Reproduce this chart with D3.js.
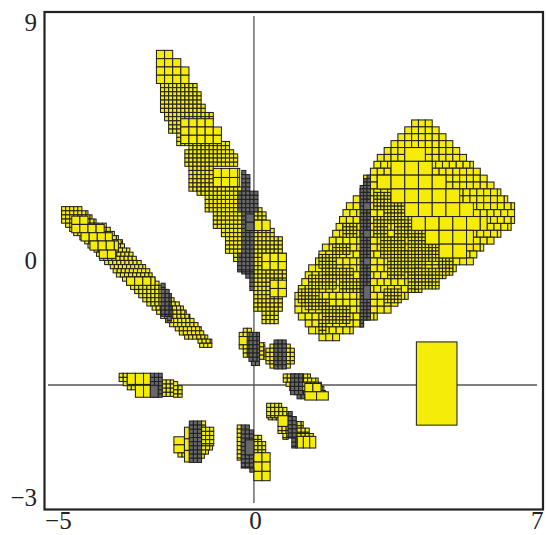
<!DOCTYPE html>
<html><head><meta charset="utf-8">
<script src="https://cdnjs.cloudflare.com/ajax/libs/d3/7.8.5/d3.min.js"></script>
<style>html,body{margin:0;padding:0;background:#fff}svg{display:block}</style>
</head><body><svg id="c" width="547" height="535"></svg>
<script>
// Tick labels
const xTicks = [-5, 0, 7];
const yTickLabels = ["9", "0", "\u22123"];
const targetBox = [4, 5, -0.97, 1.04];

// Each paving: origin [x, y] and cell step [dx, dy] in data units.
// Blocks: [row0, row1, col0, col1, cellCols=1, cellRows=1]
const stemGrid = [-2.4, 8.08, 0.1, 0.1];
const stemFine = [[8,10,1,10],[10,13,1,11],[13,15,1,12],[15,17,2,14],[15,20,3,8],[20,23,5,8],
  [22,24,8,18],[24,25,7,19],[25,28,7,20],[28,34,8,14],[34,39,12,21],[33,35,10,21],[39,43,14,21],[43,45,16,21],[45,49,17,21],[49,51,19,21],
  [38,39,24,26],[39,43,24,27],[43,45,24,29],[45,49,24,31],[49,59,24,32],[59,63,24,31],[63,66,26,30]];
const stemCoarse = [[0,2,0,4,2,2],[2,4,0,6,2,2],[4,8,0,8,2,2],[16.5,18.5,6,14,2,2],[18.5,22.5,6,16,2,2],
  [28.5,33,14,20.5,2,2.2],[41,43.5,24,28,2,2.5],[49,53,26,32,2,2],[55.5,59.5,28,32,2,2]];
const stemGrey = [[29,30,21,22],[30,34,21,23],[34,39,20,25],[39,49,21,24],[49,53.5,20,24],[53.5,54,21,24],[54,55,22,24],[55,58,23,24]];
const stemGreyBig = [[39.5,43.5,22,24,2,2]];

const leafGrid = [-4.736, 4.307, 0.1, 0.1];
const leafFine = [[0,1,0,5],[1,2,0,6.5],[2,3,0,7.5],[3,4,0,8.5],[4,5,1,11],[5,6,2,12],[6,7,3,13],[7,8,4.5,14],[8,9,5.7,15],[9,10,6.5,15.7],
  [10,11,8,16.8],[11,12,8.6,17.6],[12,13,9.4,18.4],[13,14,10.6,19.7],[14,15,12,20.7],[15,16,12.7,21.7],[16,17,13.5,22.3],[17,18,15,23],
  [18,19,16,24],[19,20,17,25],[20,21,18,26],[21,22,19,27],[22,23,20,27.7],[23,24,21,29],[24,25,22.3,30],[25,26,23.4,30.7],[26,27,24.4,31.6],
  [27,28,25.6,32.6],[28,29,26.6,33.6],[29,30,28,34.4],[30,31,29,35],[31,32,30.3,36],[32,33,33.6,37],[33,34,34,37]];
const leafCoarse = [[2.3,4.3,2.5,6.5,2,2],[4.3,6.3,2.5,10.5,2,2],[6.3,8.3,4.8,12.5,2,2],[8.3,10.5,7,14,2,2.2],[10.5,12.5,9.3,13.5,2,2],[17,19,16,23,2,2]];
const leafGrey = [[18.5,20,24.5,25.5],[20,21,24.5,26.5],[21,26.5,24.5,27],[26.5,28,26,27]];

const fanGrid = [1.01, 6.40, 0.0845, 0.0833];
const fanMedium = [[0,2,34,40,2,2],[2,4,32,42,2,2],[4,6,30,44,2,2],[6,8,28,46,2,2],[8,10,26,48,2,2],[10,12,24,50,2,2],[12,14,23,52,2,2],[14,16,22,54,2,2],
  [16,18,20,56,2,2],[18,20,20,58,2,2],[20,22,19,60,2,2],[22,24,17,62,2,2],[24,26,15,64,2,2],[26,28,14,64,2,2],[28,30,13,64,2,2],[30,32,12,63,2,2],
  [32,34,11,60,2,2],[34,36,10,58,2,2],[36,38,8,55,2,2],[38,40,7,53,2,2],[40,42,6,52,2,2],[42,44,4,47,2,2],[44,46,3,44,2,2],[46,48,2,40,2,2],
  [48,50,1,37,2,2],[50,52,0,33,2,2],[52,54,0,30,2,2],[54,56,0,28,2,2],[56,58,1,24,2,2],[58,60,3,20,2,2],[60,62,4,17,2,2],[62,64,7,13,2,2]];
const fanFine = [[21,26,23,29],[24,30,26,32],[29,34,29,35],[32,38,33,38],[35,41,37,42],[40,45,42,46],
  [28,34,23,27],[34,40,25,32],[40,46,27,32],[44,50,33,36],[38,44,31,37],[43,49,35,42],[49,53,26,31],
  [30,34,14,18],[36,39,11,16],[39,43,7,12],[43,46,8,17],[45,49,4,12],[46,50,13,19],[49,53,1,7],[52,55,3,10],[54,59,8,16],[59,62,7,9]];
const fanCoarse = [[8,12,32,38,6,4],[12,16,28,40,4,4],[16,20,24,44,4,4],[20,24,28,48,4,4],[24,28,32,52,4,4],[28,32,34,56,4,4],[32,36,38,52,4,4],[36,40,42,50,4,4]];
const fanGrey = [[16,17,21,22],[17,19,20,22],[19,58,19,22],[58,60,19,20]];
const fanGreyBig = [[24,26,20,22,2,2],[32,34,20,22,2,2],[40,42,20,22,2,2],[48,52,20,22,2,4]];

const c1Grid = [-0.362, 1.37, 0.1, 0.1];
const c1Yellow = [[0,1,1,3],[1,2,0,3],[2,4,0,2,2,2],[2,4,2,2.4],[4,5,0,2.4],[5,7,1,2.4],[3.5,7.5,5,6.3]];
const c1Grey = [[1,8,2.4,5],[8,9,3,5]];

const c2Grid = [0.296, 1.087, 0.1, 0.1];
const c2Yellow = [[1,2,1,6.2],[2,5.8,0,7],[5.8,7,1,6.2]];
const c2Grey = [[0,7,2,5.2]];

const c3Grid = [0.722, 0.266, 0.1, 0.1];
const c3Yellow = [[0,1,0,6.7],[1,2,0,8.6],[2,3,0.7,9.4],[3,4,1.6,10],[4,5,3,10.4],[2.3,4.3,5.3,9.3,2,2],[4.3,6.3,5.3,11.2,2.9,2]];
const c3Grey = [[0,5,1.8,5],[5,6,3.4,5.3]];

const c4Grid = [-3.318, 0.283, 0.1, 0.1];
const c4Yellow = [[0,2,0,2],[2,3,1,2],[3,4,2,4],[0,2.7,2,7.7,2,2.7],[2.9,5.8,4,7.7,2,2.9],[1.6,5.8,10.6,13.4],[2,5.8,13.4,14.5],[3,5.8,14.5,15.6]];
const c4Grey = [[0,5.8,7.7,10.6]];
const c4GreyBig = [[2.9,5.8,7.7,9.6,1.9,2.9]];

const c5Grid = [-1.97, -0.87, 0.1, 0.1];
const c5Yellow = [[3.8,7.7,0,2.6,2.6,1.95],[7.7,8.7,1,2.7],[1.5,10,2.6,3.8,1.2,2.8],[0,1.5,6.8,8],[1.5,6,6.8,10],[6,7,6.8,9.5],[7,8,6.8,8.5],[8,9,6.8,7.5]];
const c5Grey = [[0,10.2,3.8,6.8]];

const c6Grid = [-0.411, -0.966, 0.1, 0.1];
const c6Yellow = [[0,8.5,0,1],[2.5,4,4.1,6],[4,6.7,4.1,7],[6.7,13.5,4.1,8.1,2,2.25]];
const c6Grey = [[0,1.2,1,3.2],[1.2,10.4,1,4.1],[10.4,11.6,3.1,4.1]];
const c6GreyBig = [[3.6,7.2,2,4.1,2.1,3.6]];

const c7Grid = [0.313, -0.442, 0.1, 0.1];
const c7Yellow = [[0,1,0,3.7],[1,2,0,5],[2,3.5,0,5.3],[3.5,4,0.4,5.3],[3,5.6,2.8,5.3,2.5,2.6],[5.6,7.3,2.8,5.3],[7.3,8.7,4,5.3],
  [4.4,6,7.5,9],[6,7.3,7.5,10.5],[7.3,8,7.5,11.5],[8,10.8,7.5,12.1,1.55,2.8]];
const c7Grey = [[2,3.2,5.3,6.4],[3.2,8.4,5.3,7.5],[8.4,10.8,6.2,7.5]];

const YELLOW = "#f5ec08", GREY = "#68686a", EDGE = "#222";
const layers = [
  [stemGrid, stemFine, YELLOW],[stemGrid, stemCoarse, YELLOW],[stemGrid, stemGrey, GREY],[stemGrid, stemGreyBig, GREY],
  [leafGrid, leafFine, YELLOW],[leafGrid, leafCoarse, YELLOW],[leafGrid, leafGrey, GREY],
  [fanGrid, fanMedium, YELLOW],[fanGrid, fanFine, YELLOW],[fanGrid, fanCoarse, YELLOW],[fanGrid, fanGrey, GREY],[fanGrid, fanGreyBig, GREY],
  [c1Grid, c1Yellow, YELLOW],[c1Grid, c1Grey, GREY],
  [c2Grid, c2Yellow, YELLOW],[c2Grid, c2Grey, GREY],
  [c3Grid, c3Yellow, YELLOW],[c3Grid, c3Grey, GREY],
  [c4Grid, c4Yellow, YELLOW],[c4Grid, c4Grey, GREY],[c4Grid, c4GreyBig, GREY],
  [c5Grid, c5Yellow, YELLOW],[c5Grid, c5Grey, GREY],
  [c6Grid, c6Yellow, YELLOW],[c6Grid, c6Grey, GREY],[c6Grid, c6GreyBig, GREY],
  [c7Grid, c7Yellow, YELLOW],[c7Grid, c7Grey, GREY]
];

const svg = d3.select("#c");
const x = d3.scaleLinear().domain([-5.07, 6.97]).range([48, 537]);
const y = d3.scaleLinear().domain([8.91, -2.85]).range([16, 503]);
const yLabel = d3.scalePoint().domain(yTickLabels).range([22, 497]);

// Expand blocks to boxes
const boxes = [];
for (const [grid, blocks, fill] of layers) {
  const [ox, oy, dx, dy] = grid;
  for (const [r0, r1, c0, c1, sc = 1, sr = 1] of blocks) {
    for (let r = r0; r < r1 - 0.2; r += sr) {
      for (let c = c0; c < c1 - 0.2; c += sc) {
        boxes.push({
          x0: ox + c * dx, x1: ox + Math.min(c + sc, c1) * dx,
          y0: oy - r * dy, y1: oy - Math.min(r + sr, r1) * dy, fill
        });
      }
    }
  }
}

// Coordinate lines
svg.append("line").attr("x1", x.range()[0]).attr("x2", x.range()[1]).attr("y1", y(0)).attr("y2", y(0))
  .attr("stroke", "#555").attr("stroke-width", 1.3);
svg.append("line").attr("x1", x(0)).attr("x2", x(0)).attr("y1", y.range()[0]).attr("y2", y.range()[1])
  .attr("stroke", "#555").attr("stroke-width", 1.3);

svg.append("g").selectAll("rect").data(boxes).join("rect")
  .attr("x", d => x(d.x0)).attr("width", d => x(d.x1) - x(d.x0))
  .attr("y", d => y(d.y0)).attr("height", d => y(d.y1) - y(d.y0))
  .attr("fill", d => d.fill).attr("stroke", EDGE).attr("stroke-width", 1.05);

// Target box
svg.append("rect").attr("x", x(targetBox[0])).attr("width", x(targetBox[1]) - x(targetBox[0]))
  .attr("y", y(targetBox[3])).attr("height", y(targetBox[2]) - y(targetBox[3]))
  .attr("fill", YELLOW).attr("stroke", EDGE).attr("stroke-width", 1.05);

// Frame
svg.append("rect").attr("x", 44.5).attr("y", 12).attr("width", 498.5).attr("height", 497.5)
  .attr("fill", "none").attr("stroke", "#222").attr("stroke-width", 2.2);

const font = "'Liberation Serif', serif";
svg.append("g").selectAll("text").data(xTicks).join("text")
  .attr("x", d => d === -5 ? x(d) + 7.5 : d === 0 ? x(d) + 1.5 : x(d) - 1)
  .attr("y", 529).attr("text-anchor", "middle")
  .attr("font-family", font).attr("font-size", 25).attr("fill", "#222")
  .text(d => d < 0 ? "\u2212" + Math.abs(d) : d);
svg.append("g").selectAll("text").data(yTickLabels).join("text")
  .attr("x", 37).attr("y", d => yLabel(d) + 9).attr("text-anchor", "end")
  .attr("font-family", font).attr("font-size", 25).attr("fill", "#222")
  .text(d => d);
</script></body></html>
